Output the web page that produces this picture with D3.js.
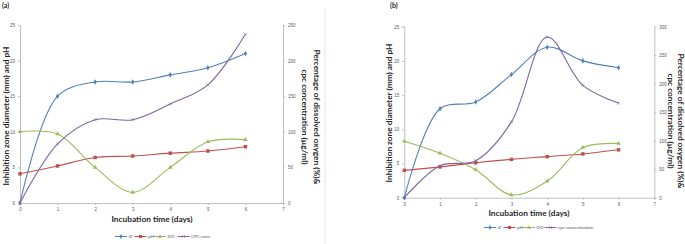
<!DOCTYPE html>
<html>
<head>
<meta charset="utf-8">
<script src="https://cdn.jsdelivr.net/npm/d3@7"></script>
<style>
  body { margin: 0; background: #fff; }
  svg { display: block; font-family: Lato, "Open Sans", sans-serif; }
  .tick text { fill: #595959; font-size: 4.5px; }
  .domain, .tick line { stroke: #bfbfbf; }
  .ttl { font-weight: bold; fill: #262626; }
</style>
</head>
<body>
<div id="chart"></div>
<script>
let width = 685, height = 244;

const days = [0, 1, 2, 3, 4, 5, 6];

// panel (a)
const izA  = [0, 15, 17, 17, 18, 19, 21];
const phA  = [4.1, 5.2, 6.4, 6.6, 7.0, 7.3, 7.9];
const doA  = [100, 97, 50, 15, 50, 86, 89];
const cpcA = [0, 83, 117, 117, 139, 166, 237];

// panel (b)
const izB  = [0, 13, 14, 18, 22, 20, 19];
const phB  = [4.0, 4.5, 5.1, 5.6, 6.0, 6.4, 7.0];
const doB  = [99, 78, 49, 5, 29, 88, 95];
const cpcB = [0, 56, 65, 133, 282, 197, 166];

const leftTicks = [0, 5, 10, 15, 20, 25];
const rightTicksA = [0, 50, 100, 150, 200, 250];
const rightTicksB = [0, 50, 100, 150, 200, 250, 300];
const xTicks = [0, 1, 2, 3, 4, 5, 6, 7];

const colors = { iz: "#4f81bd", ph: "#c0504d", do: "#9bbb59", cpc: "#8064a2" };

const svg = d3.select("#chart")
  .append("svg")
  .attr("width", width)
  .attr("height", height);

function drawPanel(p) {
  let x = d3.scaleLinear().domain([0, 7]).range([p.left, p.right]);
  let yL = d3.scaleLinear().domain([0, 25]).range([p.bottom, p.top]);
  let yR = d3.scaleLinear().domain([0, p.rightMax]).range([p.bottom, p.top]);

  let g = svg.append("g");

  g.append("g")
    .attr("transform", `translate(0,${p.bottom})`)
    .call(d3.axisBottom(x).tickValues(xTicks).tickFormat(d3.format("d")).tickSize(2).tickPadding(3));

  g.append("g")
    .attr("transform", `translate(${p.left},0)`)
    .call(d3.axisLeft(yL).tickValues(leftTicks).tickFormat(d3.format("d")).tickSize(2).tickPadding(3));

  g.append("g")
    .attr("transform", `translate(${p.right},0)`)
    .call(d3.axisRight(yR).tickValues(p.rightTicks).tickFormat(d3.format("d")).tickSize(2).tickPadding(3));

  // light frame line on the right of the chart
  g.append("line")
    .attr("x1", p.frameX).attr("x2", p.frameX)
    .attr("y1", 8).attr("y2", height)
    .attr("stroke", "#e3e3e3");

  let series = [
    { key: "iz", vals: p.iz, y: yL, marker: "diamond" },
    { key: "ph", vals: p.ph, y: yL, marker: "square" },
    { key: "do", vals: p.do, y: yR, marker: "triangle" },
    { key: "cpc", vals: p.cpc, y: yR, marker: "x" }
  ];

  for (let s of series) {
    let pts = days.map((d, i) => [x(d), s.y(s.vals[i])]);
    let line = d3.line().curve(d3.curveCatmullRom.alpha(0.5));
    g.append("path")
      .attr("d", line(pts))
      .attr("fill", "none")
      .attr("stroke", colors[s.key])
      .attr("stroke-width", 1.1);

    for (let pt of pts) {
      drawMarker(g, s.marker, pt[0], pt[1], colors[s.key], 1);
    }
  }

  // titles
  g.append("text").attr("class", "ttl")
    .attr("x", p.tagX).attr("y", 8)
    .attr("font-size", 7)
    .text(p.tag);

  g.append("text").attr("class", "ttl")
    .attr("transform", `translate(${p.leftTitleX},${p.leftTitleY}) rotate(-90)`)
    .attr("text-anchor", "middle")
    .attr("font-size", 8.3)
    .text("Inhibition zone diameter (mm) and pH");

  g.append("text").attr("class", "ttl")
    .attr("transform", `translate(${p.rightTitleX1},${p.rightTitleY}) rotate(90)`)
    .attr("text-anchor", "middle")
    .attr("font-size", 8.3)
    .text("Percentage of dissolved oxygen (%)&");

  g.append("text").attr("class", "ttl")
    .attr("transform", `translate(${p.rightTitleX2},${p.rightTitleY}) rotate(90)`)
    .attr("text-anchor", "middle")
    .attr("font-size", 8.3)
    .text("cpc concentration (µg/ml)");

  g.append("text").attr("class", "ttl")
    .attr("x", p.xTitleX).attr("y", p.xTitleY)
    .attr("text-anchor", "middle")
    .attr("font-size", 8.3)
    .text("Incubation time (days)");

  // legend
  let legend = g.append("g").attr("transform", `translate(${p.legendX},${p.legendY})`);
  let offset = 0;
  series.forEach((s, i) => {
    let item = legend.append("g").attr("transform", `translate(${offset},0)`);
    item.append("line")
      .attr("x1", 0).attr("x2", 12)
      .attr("stroke", colors[s.key]).attr("stroke-width", 1);
    drawMarker(item, s.marker, 6, 0, colors[s.key], 0.8);
    item.append("text")
      .attr("x", 13.5).attr("y", 1.5)
      .attr("font-size", 4.5)
      .attr("fill", "#595959")
      .text(p.labels[i]);
    offset += 13.5 + p.labelWidths[i];
  });
}

function drawMarker(g, type, cx, cy, color, k) {
  if (type === "diamond") {
    g.append("path")
      .attr("d", d3.symbol(d3.symbolDiamond, 9 * k)())
      .attr("transform", `translate(${cx},${cy})`)
      .attr("fill", color);
  } else if (type === "square") {
    g.append("path")
      .attr("d", d3.symbol(d3.symbolSquare, 12 * k)())
      .attr("transform", `translate(${cx},${cy})`)
      .attr("fill", color);
  } else if (type === "triangle") {
    g.append("path")
      .attr("d", d3.symbol(d3.symbolTriangle, 9 * k)())
      .attr("transform", `translate(${cx},${cy})`)
      .attr("fill", color);
  } else {
    g.append("path")
      .attr("d", d3.symbol(d3.symbolX, 7 * k)())
      .attr("transform", `translate(${cx},${cy})`)
      .attr("fill", "none")
      .attr("stroke", color)
      .attr("stroke-width", 0.6);
  }
}

drawPanel({
  left: 20, right: 283, top: 25, bottom: 203, rightMax: 250, rightTicks: rightTicksA,
  iz: izA, ph: phA, do: doA, cpc: cpcA,
  frameX: 325, tag: "(a)", tagX: 2,
  leftTitleX: 9, leftTitleY: 116,
  rightTitleX1: 313.5, rightTitleX2: 302, rightTitleY: 117,
  xTitleX: 152, xTitleY: 222,
  legendX: 115, legendY: 236.5,
  labels: ["IZ", "pH", "DO", "CPC conc"], labelWidths: [6, 6, 10, 14]
});

drawPanel({
  left: 404.3, right: 654.3, top: 26.7, bottom: 197.7, rightMax: 300, rightTicks: rightTicksB,
  iz: izB, ph: phB, do: doB, cpc: cpcB,
  frameX: 690, tag: "(b)", tagX: 390,
  leftTitleX: 392, leftTitleY: 113,
  rightTitleX1: 677.5, rightTitleX2: 668, rightTitleY: 121,
  xTitleX: 529, xTitleY: 216,
  legendX: 484, legendY: 227.5,
  labels: ["IZ", "pH", "DO", "cpc concentration"], labelWidths: [6, 6, 8, 30]
});
</script>
</body>
</html>
